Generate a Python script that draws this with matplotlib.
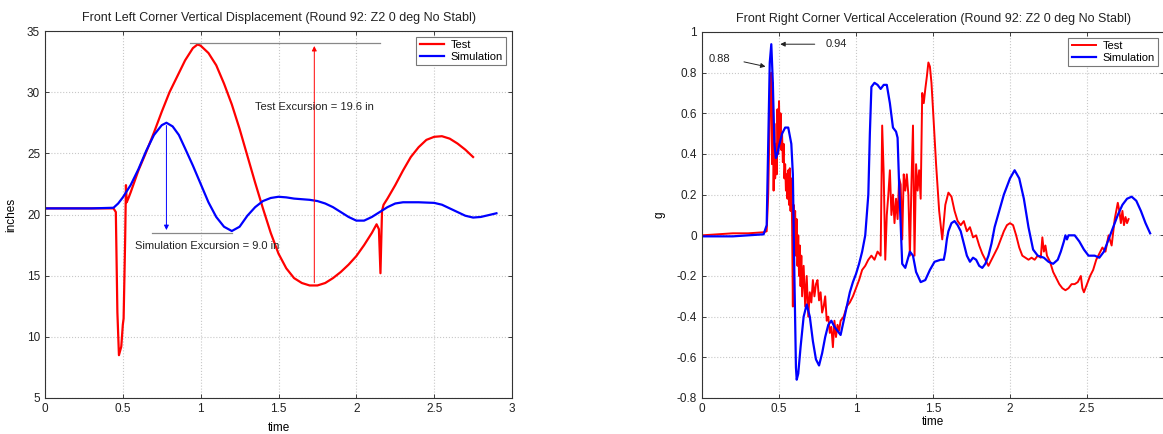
import matplotlib
matplotlib.use("Agg")
import matplotlib.pyplot as plt

plt.rcParams['font.family'] = ['Liberation Sans', 'DejaVu Sans']

# ---------------- Left chart: displacement ----------------
disp_test_t = [0, 0.3, 0.44, 0.455, 0.465, 0.475, 0.49, 0.50, 0.505, 0.515, 0.52, 0.525, 0.535, 0.55,
               0.6, 0.65, 0.7, 0.75, 0.8, 0.85, 0.9, 0.95, 0.98, 1.0, 1.05, 1.1, 1.15, 1.2, 1.25, 1.3,
               1.35, 1.4, 1.45, 1.5, 1.55, 1.6, 1.65, 1.7, 1.75, 1.8, 1.85, 1.9, 1.95, 2.0, 2.05, 2.1,
               2.13, 2.145, 2.155, 2.165, 2.175, 2.2, 2.25, 2.3, 2.35, 2.4, 2.45, 2.5, 2.55, 2.6, 2.65,
               2.7, 2.75]
disp_test_in = [20.5, 20.5, 20.5, 20.2, 12.0, 8.5, 9.2, 11.0, 11.5, 18.0, 22.4, 21.0, 21.3, 21.8,
                23.6, 25.1, 26.7, 28.4, 30.0, 31.3, 32.6, 33.6, 33.9, 33.8, 33.2, 32.2, 30.7, 29.0,
                27.0, 24.8, 22.6, 20.5, 18.5, 16.8, 15.6, 14.8, 14.4, 14.2, 14.2, 14.4, 14.8, 15.3,
                15.9, 16.6, 17.5, 18.5, 19.2, 18.8, 15.2, 20.3, 20.8, 21.3, 22.4, 23.6, 24.7, 25.5,
                26.1, 26.35, 26.4, 26.2, 25.8, 25.3, 24.7]

disp_sim_t = [0, 0.3, 0.44, 0.47, 0.5, 0.55, 0.6, 0.65, 0.7, 0.75, 0.78, 0.82, 0.86, 0.9, 0.95, 1.0,
              1.05, 1.1, 1.15, 1.2, 1.25, 1.3, 1.35, 1.4, 1.45, 1.5, 1.55, 1.6, 1.65, 1.7, 1.75, 1.8,
              1.85, 1.9, 1.95, 2.0, 2.05, 2.1, 2.15, 2.2, 2.25, 2.3, 2.4, 2.5, 2.55, 2.6, 2.65, 2.7,
              2.75, 2.8, 2.85, 2.9]
disp_sim_in = [20.5, 20.5, 20.55, 20.9, 21.4, 22.4, 23.7, 25.2, 26.5, 27.3, 27.5, 27.2, 26.5, 25.4,
               24.0, 22.5, 21.0, 19.8, 19.0, 18.65, 19.0, 19.9, 20.6, 21.1, 21.35, 21.45, 21.4, 21.3,
               21.25, 21.2, 21.1, 20.9, 20.6, 20.2, 19.8, 19.5, 19.5, 19.8, 20.2, 20.6, 20.9, 21.0,
               21.0, 20.95, 20.8, 20.5, 20.2, 19.9, 19.75, 19.8, 19.95, 20.1]

test_exc_x, test_exc_lo, test_exc_hi = 1.73, 14.2, 34.0
test_ref_line_x = [0.93, 2.15]
sim_exc_x, sim_exc_hi, sim_exc_lo = 0.78, 27.5, 18.5
sim_ref_line_x = [0.69, 1.2]

# ---------------- Right chart: acceleration ----------------
acc_test_t = [0, 0.1, 0.2, 0.3, 0.4, 0.42, 0.43, 0.44, 0.45, 0.455, 0.46, 0.465, 0.47, 0.475, 0.48,
              0.485, 0.49, 0.495, 0.50, 0.505, 0.51, 0.515, 0.52, 0.525, 0.53, 0.535, 0.54, 0.545,
              0.55, 0.555, 0.56, 0.565, 0.57, 0.575, 0.58, 0.585, 0.59, 0.595, 0.60, 0.605, 0.61,
              0.615, 0.62, 0.625, 0.63, 0.635, 0.64, 0.645, 0.65, 0.66, 0.67, 0.68, 0.69, 0.70, 0.71,
              0.72, 0.73, 0.74, 0.75, 0.76, 0.77, 0.78, 0.79, 0.80, 0.81, 0.82, 0.83, 0.84, 0.85,
              0.86, 0.87, 0.88, 0.89, 0.90, 0.92, 0.94, 0.96, 0.98, 1.00, 1.02, 1.04, 1.06, 1.08,
              1.10, 1.12, 1.14, 1.16, 1.17, 1.18, 1.19, 1.20, 1.21, 1.22, 1.23, 1.24, 1.25, 1.26,
              1.27, 1.28, 1.29, 1.30, 1.31, 1.32, 1.33, 1.34, 1.35, 1.36, 1.37, 1.38, 1.39, 1.40,
              1.41, 1.42, 1.43, 1.44, 1.45, 1.46, 1.47, 1.48, 1.49, 1.50, 1.52, 1.54, 1.56, 1.58,
              1.60, 1.62, 1.64, 1.66, 1.68, 1.70, 1.72, 1.74, 1.76, 1.78, 1.80, 1.82, 1.84, 1.86,
              1.88, 1.90, 1.92, 1.94, 1.96, 1.98, 2.00, 2.02, 2.04, 2.06, 2.08, 2.10, 2.12, 2.14,
              2.16, 2.18, 2.20, 2.21, 2.22, 2.23, 2.24, 2.26, 2.28, 2.30, 2.32, 2.34, 2.36, 2.38,
              2.40, 2.42, 2.44, 2.46, 2.47, 2.48, 2.50, 2.52, 2.54, 2.56, 2.58, 2.60, 2.62, 2.64,
              2.66, 2.68, 2.70, 2.71, 2.72, 2.73, 2.74, 2.75, 2.76, 2.77]
acc_test_g = [0.0, 0.005, 0.01, 0.01, 0.015, 0.02, 0.2, 0.6, 0.80, 0.35, 0.75, 0.22, 0.55, 0.28,
              0.45, 0.30, 0.62, 0.40, 0.66, 0.45, 0.60, 0.42, 0.50, 0.36, 0.45, 0.28, 0.35, 0.22,
              0.30, 0.18, 0.32, 0.15, 0.33, 0.12, 0.28, 0.05, -0.35, 0.15, 0.05, 0.12, -0.10,
              0.08, -0.15, 0.0, -0.20, -0.05, -0.25, -0.10, -0.30, -0.15, -0.35, -0.20, -0.40,
              -0.28, -0.33, -0.22, -0.30, -0.24, -0.22, -0.32, -0.28, -0.38, -0.35, -0.30, -0.42,
              -0.40, -0.48, -0.45, -0.55, -0.42, -0.50, -0.44, -0.47, -0.42, -0.40, -0.35, -0.33,
              -0.30, -0.26, -0.22, -0.17, -0.15, -0.12, -0.10, -0.12, -0.08, -0.10, 0.54, 0.30,
              -0.12, 0.10, 0.20, 0.32, 0.10, 0.20, 0.06, 0.18, 0.08, 0.28, 0.25, -0.02, 0.30, 0.22,
              0.30, 0.20, -0.10, 0.25, 0.54, -0.10, 0.35, 0.22, 0.32, 0.18, 0.70, 0.65, 0.72, 0.78,
              0.85, 0.83, 0.75, 0.62, 0.35, 0.12, -0.02, 0.15, 0.21, 0.19, 0.12, 0.07, 0.05, 0.07,
              0.02, 0.04, -0.01, 0.0, -0.05, -0.09, -0.12, -0.15, -0.12, -0.09, -0.06, -0.02, 0.02,
              0.05, 0.06, 0.05, 0.0, -0.06, -0.10, -0.11, -0.12, -0.11, -0.12, -0.10, -0.11, -0.01,
              -0.08, -0.05, -0.10, -0.13, -0.18, -0.21, -0.24, -0.26, -0.27, -0.26, -0.24, -0.24,
              -0.23, -0.20, -0.26, -0.28, -0.24, -0.20, -0.17, -0.12, -0.09, -0.06, -0.08, 0.0,
              -0.05, 0.08, 0.16, 0.12, 0.06, 0.12, 0.05, 0.09, 0.06, 0.08]

acc_sim_t = [0, 0.2, 0.4, 0.42, 0.44, 0.45, 0.46, 0.47, 0.48, 0.49, 0.50, 0.52, 0.54, 0.56, 0.58,
             0.59, 0.60, 0.61, 0.615, 0.625, 0.64, 0.66, 0.68, 0.70, 0.72, 0.74, 0.76, 0.78, 0.80,
             0.82, 0.84, 0.86, 0.88, 0.90, 0.92, 0.94, 0.96, 0.98, 1.00, 1.02, 1.04, 1.06, 1.08,
             1.09, 1.10, 1.12, 1.14, 1.16, 1.18, 1.20, 1.22, 1.24, 1.26, 1.27, 1.28, 1.30, 1.32,
             1.35, 1.37, 1.39, 1.42, 1.45, 1.48, 1.51, 1.55, 1.57, 1.58, 1.59, 1.60, 1.62, 1.64,
             1.66, 1.68, 1.70, 1.72, 1.74, 1.76, 1.78, 1.80, 1.82, 1.84, 1.86, 1.88, 1.90, 1.93,
             1.96, 2.00, 2.03, 2.06, 2.09, 2.12, 2.15, 2.18, 2.22, 2.25, 2.28, 2.31, 2.33, 2.35,
             2.36, 2.37, 2.38, 2.42, 2.45, 2.48, 2.51, 2.55, 2.58, 2.61, 2.64, 2.67, 2.70, 2.73,
             2.76, 2.79, 2.82, 2.85, 2.88, 2.91]
acc_sim_g = [-0.005, -0.005, 0.005, 0.05, 0.85, 0.94, 0.75, 0.45, 0.38, 0.40, 0.44, 0.50, 0.53,
             0.53, 0.45, 0.30, -0.20, -0.65, -0.71, -0.68, -0.55, -0.40, -0.34, -0.40, -0.52, -0.61,
             -0.64, -0.58, -0.50, -0.44, -0.42, -0.45, -0.47, -0.49, -0.42, -0.35, -0.28, -0.23,
             -0.19, -0.14, -0.08, 0.0, 0.20, 0.50, 0.73, 0.75, 0.74, 0.72, 0.74, 0.74, 0.65, 0.53,
             0.51, 0.48, 0.25, -0.14, -0.16, -0.08, -0.10, -0.18, -0.23, -0.22, -0.17, -0.13,
             -0.12, -0.12, -0.08, -0.02, 0.02, 0.06, 0.07, 0.05, 0.02, -0.04, -0.10, -0.13, -0.11,
             -0.12, -0.15, -0.16, -0.14, -0.10, -0.04, 0.04, 0.12, 0.20, 0.28, 0.32, 0.28, 0.18,
             0.04, -0.07, -0.10, -0.11, -0.13, -0.14, -0.12, -0.08, -0.03, 0.0, -0.02, 0.0, 0.0,
             -0.03, -0.07, -0.10, -0.10, -0.11, -0.08, -0.02, 0.04, 0.10, 0.15, 0.18, 0.19, 0.17,
             0.12, 0.06, 0.01]

peak_sim_label, peak_sim_text_xy, peak_sim_tip = "0.94", (0.80, 0.94), (0.49, 0.94)
peak_sim_tail = (0.75, 0.94)
peak_test_label, peak_test_text_xy = "0.88", (0.04, 0.865)
peak_test_tail, peak_test_tip = (0.255, 0.856), (0.43, 0.827)

x_ticks = [0, 0.5, 1, 1.5, 2, 2.5, 3]
x_tick_labels_left = ['0', '0.5', '1', '1.5', '2', '2.5', '3']
x_tick_labels_right = ['0', '0.5', '1', '1.5', '2', '2.5', '']  # '3' falls off the image edge

RED = '#ff0000'
BLUE = '#0000ff'
FS = 8
FS_TITLE = 9
TXT = '#222222'

fig = plt.figure(figsize=(11.63, 4.34), dpi=100)
ax1 = fig.add_axes([45 / 1163, 36 / 434, 467 / 1163, 367 / 434])
ax2 = fig.add_axes([702 / 1163, 36 / 434, 462 / 1163, 366 / 434])


def style(ax):
    ax.grid(True, color='#c8c8c8', linestyle=':', linewidth=0.8)
    ax.tick_params(direction='in', top=True, right=True, labelsize=8.5, length=3, width=0.6,
                   colors=TXT)
    for s in ax.spines.values():
        s.set_color('#333333')
        s.set_linewidth(0.8)


# left
ax1.plot(disp_test_t, disp_test_in, color=RED, lw=1.6, label='Test')
ax1.plot(disp_sim_t, disp_sim_in, color=BLUE, lw=1.6, label='Simulation')
ax1.plot(test_ref_line_x, [test_exc_hi, test_exc_hi], color='#888888', lw=0.9)
ax1.plot(sim_ref_line_x, [sim_exc_lo, sim_exc_lo], color='#888888', lw=0.9)
ax1.annotate('', xy=(test_exc_x, test_exc_hi), xytext=(test_exc_x, test_exc_lo),
             arrowprops=dict(arrowstyle='-|>', color=RED, lw=0.7, mutation_scale=7))
ax1.annotate('', xy=(sim_exc_x, sim_exc_lo), xytext=(sim_exc_x, sim_exc_hi),
             arrowprops=dict(arrowstyle='-|>', color=BLUE, lw=0.7, mutation_scale=7))
ax1.text(test_exc_x, 28.8, 'Test Excursion = 19.6 in', ha='center', va='center', fontsize=FS,
         color=TXT)
ax1.text(0.575, 17.4, 'Simulation Excursion = 9.0 in', ha='left', va='center', fontsize=FS,
         color=TXT)
ax1.set_xlim(0, 3)
ax1.set_ylim(5, 35)
ax1.set_xticks(x_ticks)
ax1.set_xticklabels(x_tick_labels_left)
ax1.set_yticks([5, 10, 15, 20, 25, 30, 35])
ax1.set_xlabel('time', fontsize=8.5, labelpad=5)
ax1.set_ylabel('inches', fontsize=8.5, labelpad=7)
ax1.set_title('Front Left Corner Vertical Displacement (Round 92: Z2 0 deg No Stabl)',
              fontsize=FS_TITLE, pad=7, color=TXT)
style(ax1)
leg1 = ax1.legend(loc='upper right', fontsize=FS, fancybox=False, framealpha=1,
                  edgecolor='#777777', borderpad=0.3, labelspacing=0.15, handlelength=2.2,
                  handletextpad=0.6)
leg1.get_frame().set_linewidth(0.8)

# right
ax2.plot(acc_test_t, acc_test_g, color=RED, lw=1.4, label='Test')
ax2.plot(acc_sim_t, acc_sim_g, color=BLUE, lw=1.6, label='Simulation')
ax2.annotate('', xy=peak_sim_tip, xytext=peak_sim_tail,
             arrowprops=dict(arrowstyle='-|>', color=TXT, lw=0.7, mutation_scale=7))
ax2.text(*peak_sim_text_xy, peak_sim_label, ha='left', va='center', fontsize=FS, color=TXT)
ax2.annotate('', xy=peak_test_tip, xytext=peak_test_tail,
             arrowprops=dict(arrowstyle='-|>', color=TXT, lw=0.7, mutation_scale=7))
ax2.text(*peak_test_text_xy, peak_test_label, ha='left', va='center', fontsize=FS, color=TXT)
ax2.set_xlim(0, 3)
ax2.set_ylim(-0.8, 1)
ax2.set_xticks(x_ticks)
ax2.set_xticklabels(x_tick_labels_right)
ax2.set_yticks([-0.8, -0.6, -0.4, -0.2, 0, 0.2, 0.4, 0.6, 0.8, 1])
ax2.set_yticklabels(['-0.8', '-0.6', '-0.4', '-0.2', '0', '0.2', '0.4', '0.6', '0.8', '1'])
ax2.set_xlabel('time', fontsize=8.5, labelpad=1)
ax2.set_ylabel('g', fontsize=8.5, labelpad=8)
ax2.set_title('Front Right Corner Vertical Acceleration (Round 92: Z2 0 deg No Stabl)',
              fontsize=FS_TITLE, pad=7, color=TXT)
style(ax2)
leg2 = ax2.legend(loc='upper right', fontsize=FS, fancybox=False, framealpha=1,
                  edgecolor='#777777', borderpad=0.3, labelspacing=0.15, handlelength=2.2,
                  handletextpad=0.6)
leg2.get_frame().set_linewidth(0.8)

fig.savefig('out.png', dpi=100)
